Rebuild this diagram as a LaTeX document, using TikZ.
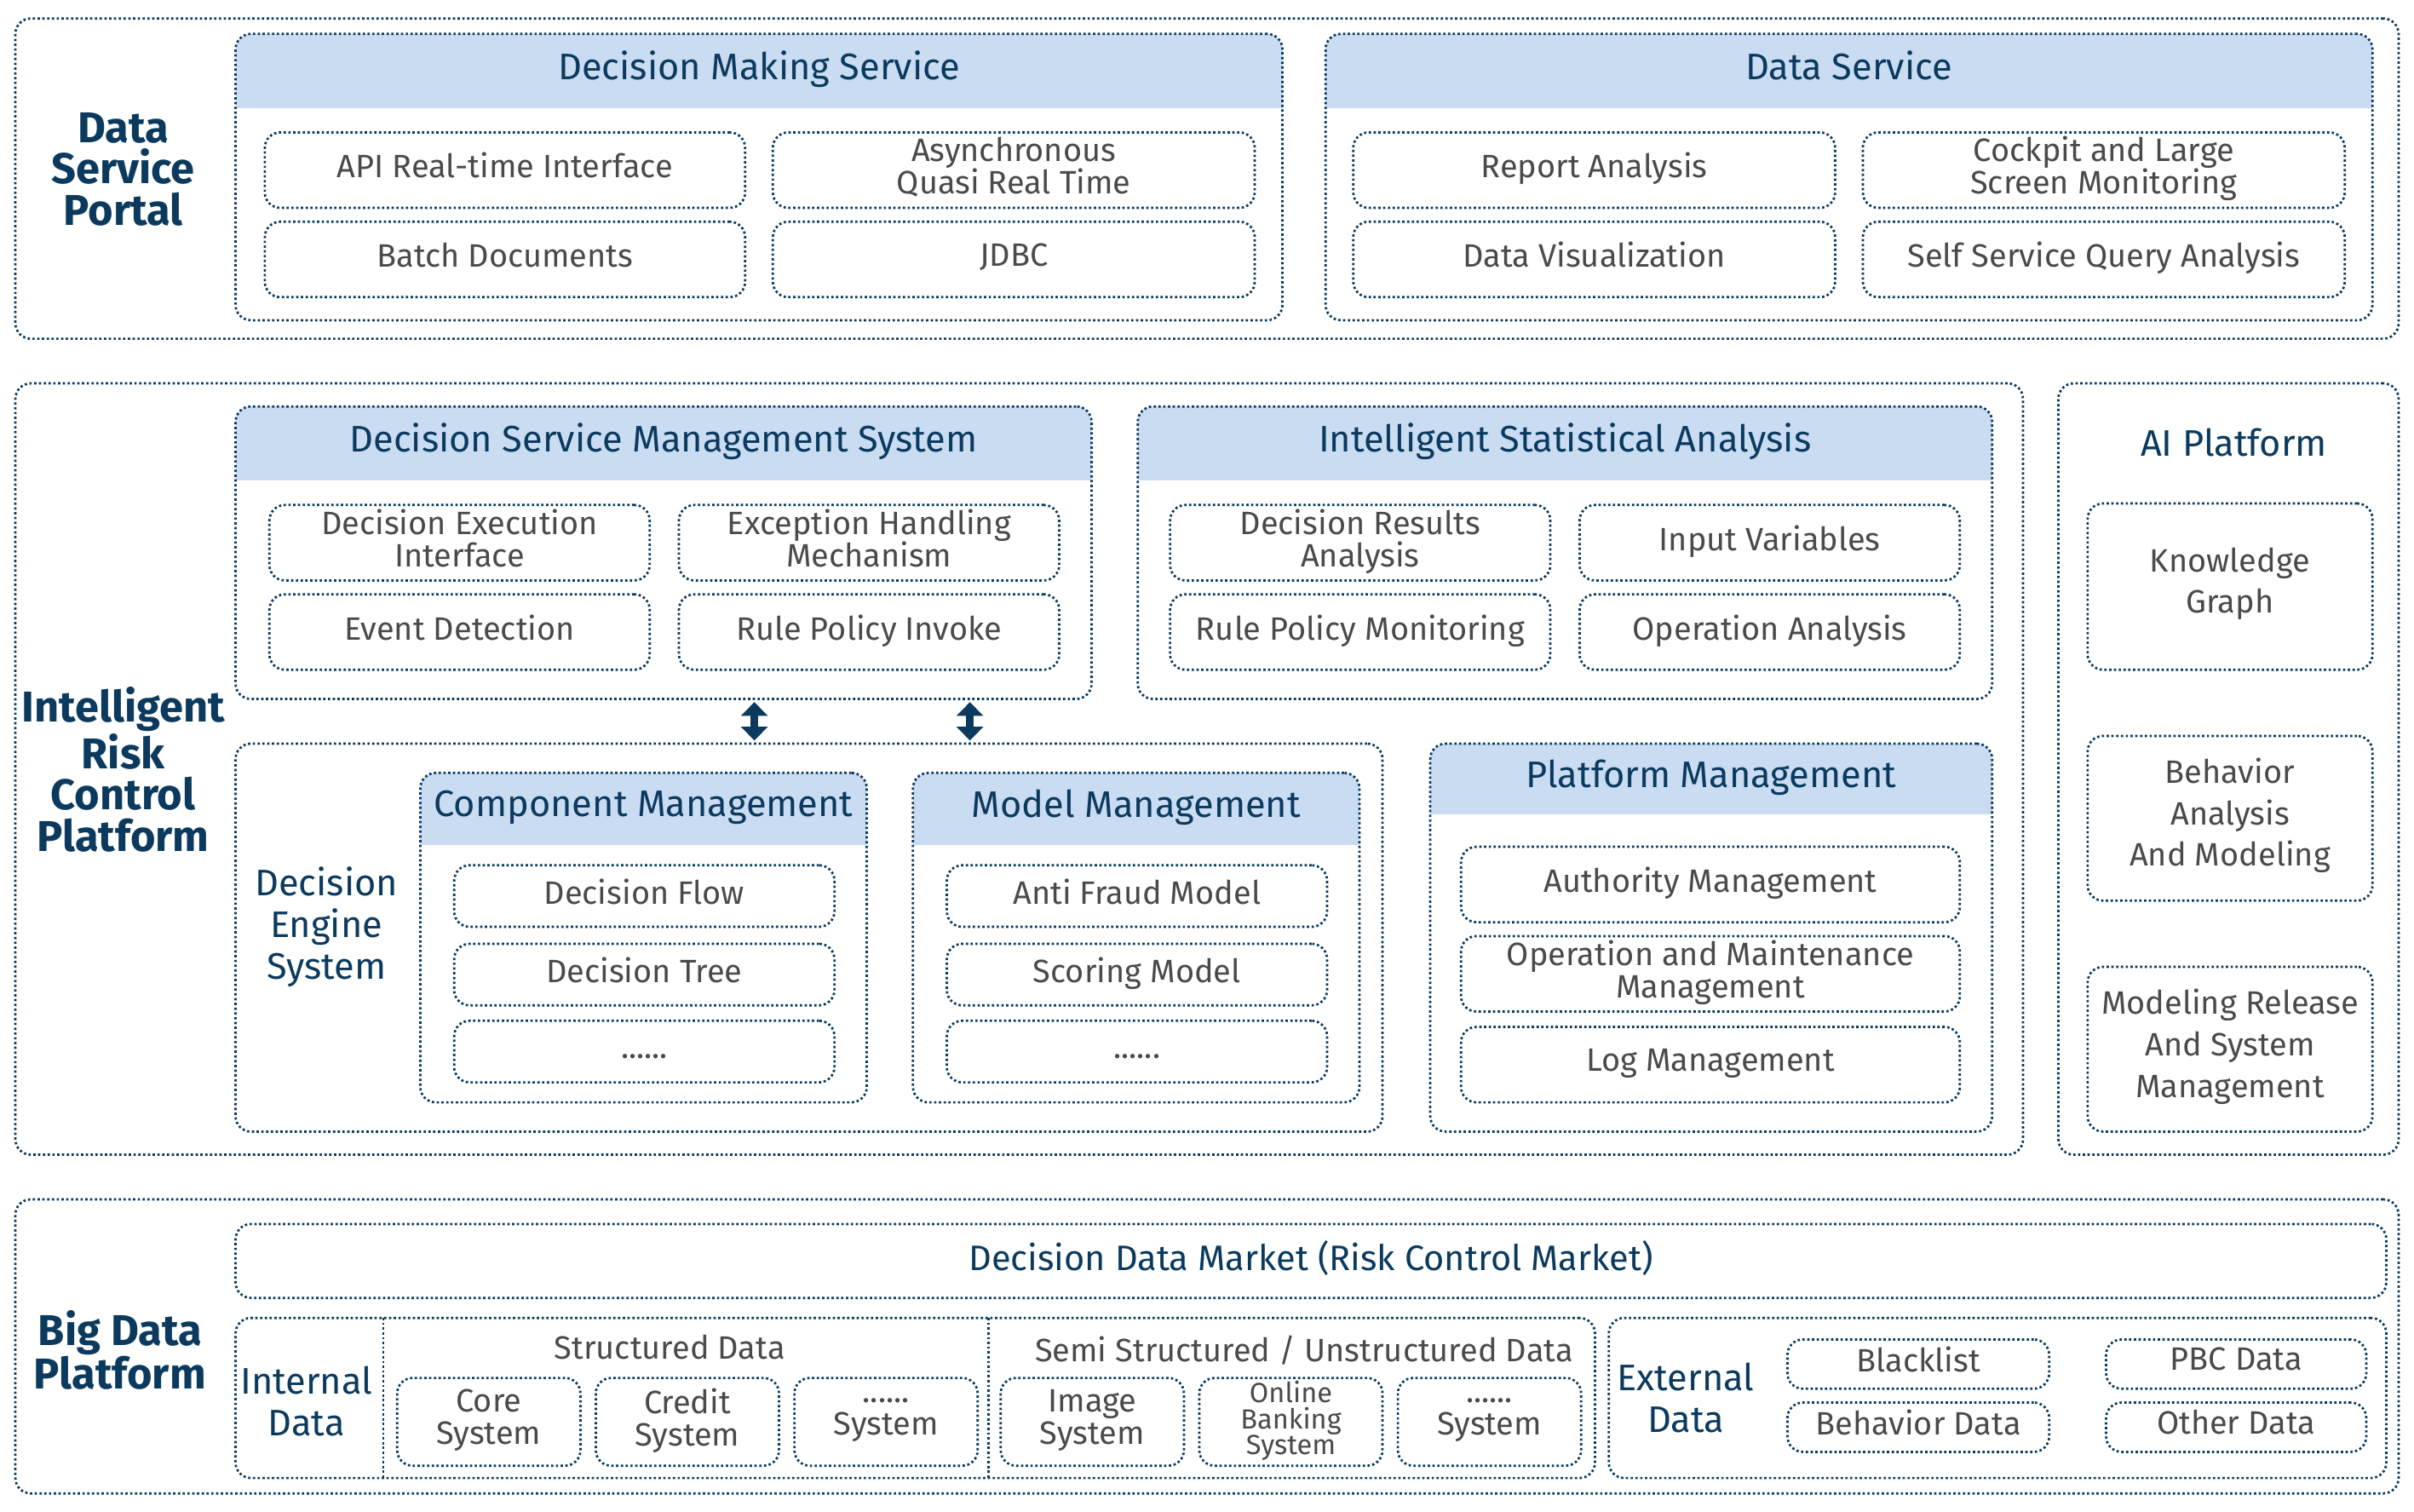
\documentclass[tikz,border=0pt]{standalone}
\usepackage{fontspec}
\setmainfont{Fira Sans}
\usetikzlibrary{arrows.meta}
\definecolor{navy}{HTML}{0B3A5E}
\definecolor{band}{HTML}{C9DCF2}
\definecolor{txt}{HTML}{4A4A4A}
\tikzset{
  dotline/.style={draw=navy, line width=1.5pt, dash pattern=on 1.5pt off 1.6pt, rounded corners=10pt},
  itembox/.style={dotline, inner sep=0pt, align=center, text=txt, font=\fontsize{21}{21}\selectfont, execute at begin node=\strut},
  grouplabel/.style={align=center, text=navy, font=\fontsize{28}{27}\selectfont\bfseries},
  sublabel/.style={align=center, text=navy, font=\fontsize{24}{27}\selectfont},
  titletext/.style={text=navy, font=\fontsize{24}{24}\selectfont, execute at begin node=\strut},
  twoway/.style={navy, line width=5pt, {Triangle[length=9pt,width=17pt]}-{Triangle[length=9pt,width=17pt]}},
}
% box from corner to corner
\newcommand{\boxat}[7]{\node[#6, minimum width={(#4-#2)*1pt}, minimum height={(#5-#3)*1pt}] (#1) at ({(#2+#4)/2},{(#3+#5)/2}) {#7};}
% panel with blue title band
\newcommand{\panel}[7]{%
  \begin{scope}
    \clip[rounded corners=10pt] (#2,#3) rectangle (#4,#5);
    \fill[band] (#2,#3) rectangle (#4,#6);
  \end{scope}
  \boxat{#1}{#2}{#3}{#4}{#5}{dotline}{}
  \node[titletext] (#1-title) at ({(#2+#4)/2},{(#3+#6)/2}) {#7};}
\begin{document}
\begin{tikzpicture}[x=1pt, y=-1pt]
\useasboundingbox (0,0) rectangle (1568,982);
%Data Service Portal
\boxat{portal}{10}{12}{1558}{220}{dotline}{}
\node[grouplabel] (portal-label) at (80,110) {Data\\Service\\Portal};
\panel{dms}{153}{22}{833}{208}{70}{Decision Making Service}
\boxat{api}{172}{86}{484}{135}{itembox}{API Real-time Interface}
\boxat{async}{502}{86}{815}{135}{itembox}{Asynchronous\\Quasi Real Time}
\boxat{batch}{172}{144}{484}{193}{itembox}{Batch Documents}
\boxat{jdbc}{502}{144}{815}{193}{itembox}{JDBC}
\panel{ds}{861}{22}{1541}{208}{70}{Data Service}
\boxat{report}{879}{86}{1192}{135}{itembox}{Report Analysis}
\boxat{cockpit}{1210}{86}{1523}{135}{itembox}{Cockpit and Large\\Screen Monitoring}
\boxat{visual}{879}{144}{1192}{193}{itembox}{Data Visualization}
\boxat{query}{1210}{144}{1523}{193}{itembox}{Self Service Query Analysis}
%Intelligent Risk Control Platform
\boxat{risk}{10}{249}{1314}{750}{dotline}{}
\node[grouplabel] (risk-label) at (80,500) {Intelligent\\Risk\\Control\\Platform};
\panel{dsms}{153}{264}{709}{454}{312}{Decision Service Management System}
\boxat{exec}{175}{328}{422}{377}{itembox}{Decision Execution\\Interface}
\boxat{exc}{441}{328}{688}{377}{itembox}{Exception Handling\\Mechanism}
\boxat{event}{175}{386}{422}{435}{itembox}{Event Detection}
\boxat{invoke}{441}{386}{688}{435}{itembox}{Rule Policy Invoke}
\panel{isa}{739}{264}{1294}{454}{312}{Intelligent Statistical Analysis}
\boxat{results}{760}{328}{1007}{377}{itembox}{Decision Results\\Analysis}
\boxat{input}{1026}{328}{1273}{377}{itembox}{Input Variables}
\boxat{monitor}{760}{386}{1007}{435}{itembox}{Rule Policy Monitoring}
\boxat{oper}{1026}{386}{1273}{435}{itembox}{Operation Analysis}
\boxat{engine}{153}{483}{898}{735}{dotline}{}
\node[sublabel] (engine-label) at (212,602) {Decision\\Engine\\System};
\coordinate (a1) at (490,456); \coordinate (b1) at (490,481);
\coordinate (a2) at (630,456); \coordinate (b2) at (630,481);
\draw[twoway] (a1) -- (b1);
\draw[twoway] (a2) -- (b2);
\panel{comp}{273}{502}{563}{716}{549}{Component Management}
\boxat{flow}{295}{562}{542}{602}{itembox}{Decision Flow}
\boxat{tree}{295}{613}{542}{653}{itembox}{Decision Tree}
\boxat{compmore}{295}{663}{542}{703}{itembox}{......}
\panel{model}{593}{502}{883}{716}{549}{Model Management}
\boxat{fraud}{615}{562}{862}{602}{itembox}{Anti Fraud Model}
\boxat{scoring}{615}{613}{862}{653}{itembox}{Scoring Model}
\boxat{modelmore}{615}{663}{862}{703}{itembox}{......}
\panel{pm}{929}{483}{1294}{735}{529}{Platform Management}
\boxat{auth}{949}{550}{1273}{599}{itembox}{Authority Management}
\boxat{om}{949}{608}{1273}{657}{itembox}{Operation and Maintenance\\Management}
\boxat{log}{949}{667}{1273}{716}{itembox}{Log Management}
%AI Platform
\boxat{ai}{1337}{249}{1558}{750}{dotline}{}
\node[titletext] (ai-title) at (1451,291) {AI Platform};
\boxat{kg}{1356}{327}{1541}{435}{itembox, font=\fontsize{21}{27}\selectfont}{Knowledge\\Graph}
\boxat{behav}{1356}{478}{1541}{585}{itembox, font=\fontsize{21}{27}\selectfont}{Behavior\\Analysis\\And Modeling}
\boxat{release}{1356}{628}{1541}{735}{itembox, font=\fontsize{21}{27}\selectfont}{Modeling Release\\And System\\Management}
%Big Data Platform
\boxat{bigdata}{10}{779}{1558}{970}{dotline}{}
\node[grouplabel] (bigdata-label) at (78,877) {Big Data\\Platform};
\boxat{market}{153}{795}{1550}{843}{itembox, text=navy, font=\fontsize{23}{23}\selectfont}{Decision Data Market (Risk Control Market)}
\boxat{internal}{153}{856}{1036}{960}{dotline}{}
\coordinate (d1t) at (249,856); \coordinate (d1b) at (249,960);
\coordinate (d2t) at (642,856); \coordinate (d2b) at (642,960);
\draw[dotline] (d1t) -- (d1b);
\draw[dotline] (d2t) -- (d2b);
\node[sublabel] (internal-label) at (199,910) {Internal\\Data};
\node[text=txt, font=\fontsize{21}{21}\selectfont] (struct-label) at (435,875) {Structured Data};
\node[text=txt, font=\fontsize{21}{21}\selectfont] (semi-label) at (847,877) {Semi Structured / Unstructured Data};
\boxat{core}{258}{895}{377}{952}{itembox}{Core\\System}
\boxat{credit}{387}{895}{506}{952}{itembox}{Credit\\System}
\boxat{sysmore}{516}{895}{635}{952}{itembox}{......\\System}
\boxat{image}{650}{895}{769}{952}{itembox}{Image\\System}
\boxat{online}{779}{895}{898}{952}{itembox, font=\fontsize{18}{17}\selectfont}{Online\\Banking\\System}
\boxat{semimore}{908}{895}{1027}{952}{itembox}{......\\System}
\boxat{external}{1045}{856}{1550}{960}{dotline}{}
\node[sublabel] (external-label) at (1095,908) {External\\Data};
\boxat{black}{1161}{870}{1331}{902}{itembox}{Blacklist}
\boxat{pbc}{1368}{870}{1537}{902}{itembox}{PBC Data}
\boxat{bdata}{1161}{911}{1331}{943}{itembox}{Behavior Data}
\boxat{other}{1368}{911}{1537}{943}{itembox}{Other Data}
\end{tikzpicture}
\end{document}
